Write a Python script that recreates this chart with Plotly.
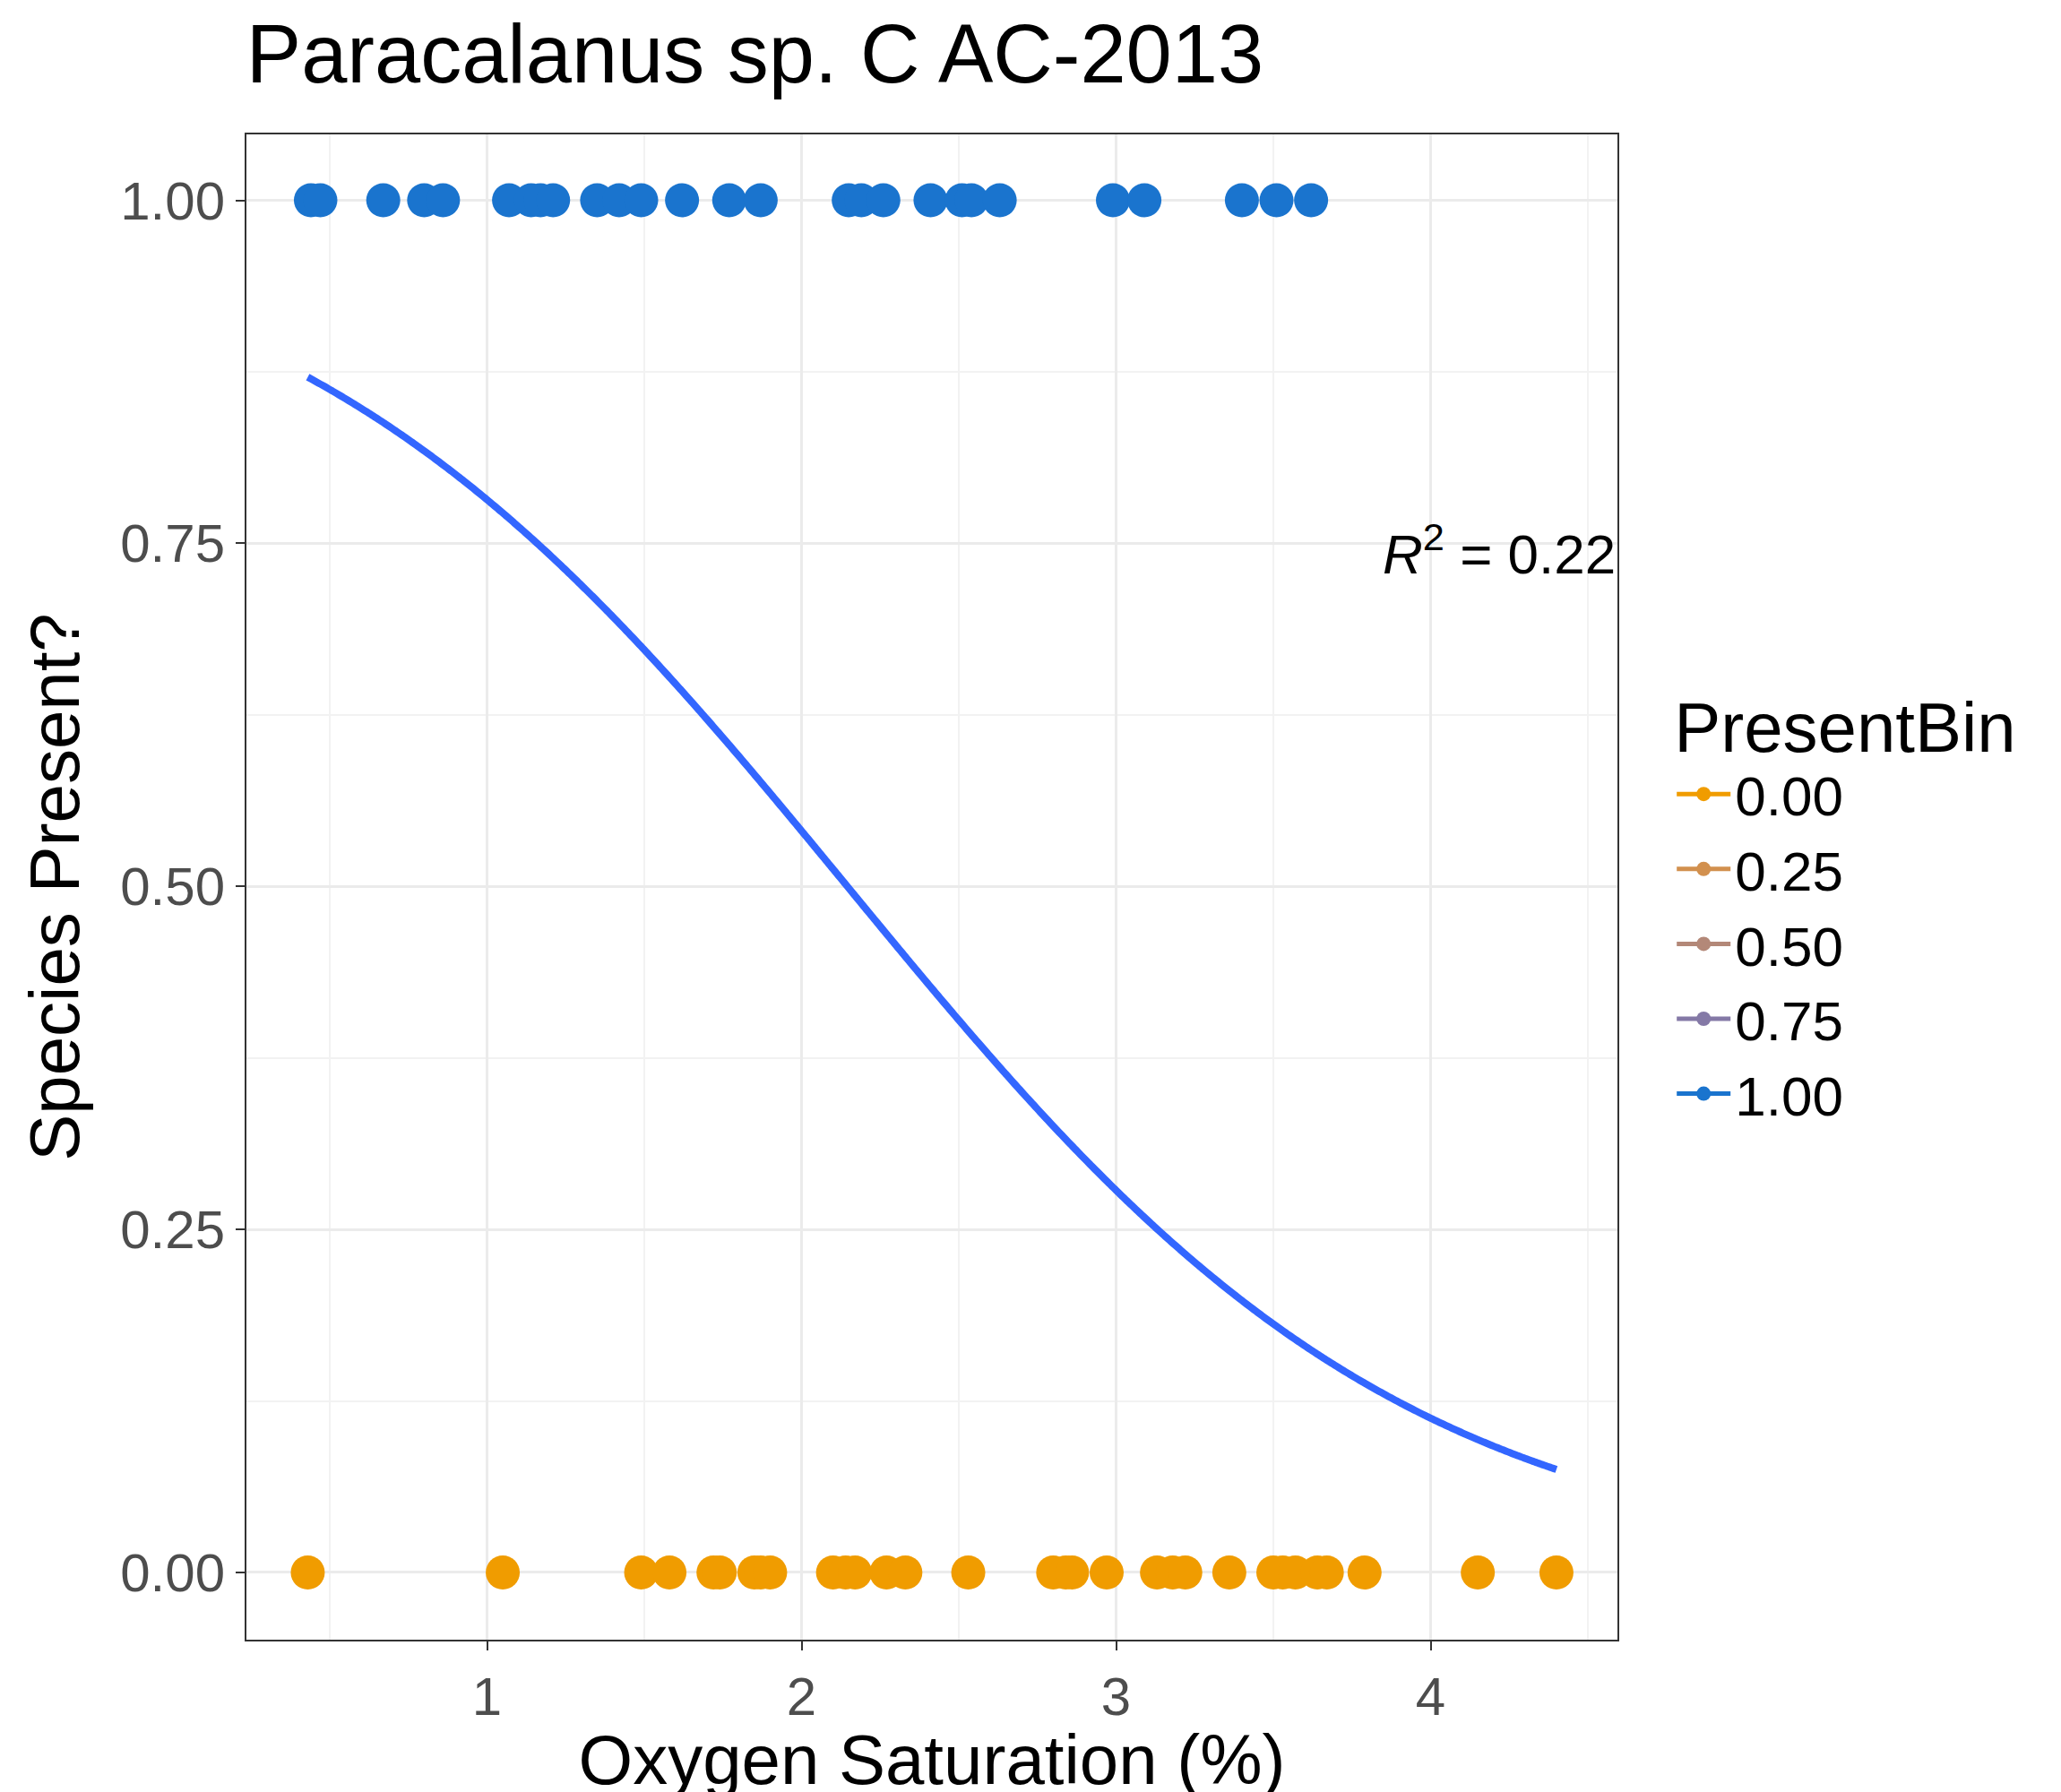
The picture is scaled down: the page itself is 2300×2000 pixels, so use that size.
import numpy as np
import plotly.graph_objects as go

# oxygen saturation of samples where species present / absent
o2_present = [0.44, 0.47, 0.67, 0.80, 0.86, 1.07, 1.14, 1.17, 1.21, 1.35, 1.42, 1.49, 1.62,
              1.77, 1.87, 2.15, 2.19, 2.26, 2.41, 2.51, 2.54, 2.63, 2.99, 3.09, 3.40, 3.51, 3.62]
o2_absent = [0.43, 1.05, 1.49, 1.58, 1.72, 1.74, 1.85, 1.87, 1.90, 2.10, 2.14, 2.17, 2.27, 2.33,
             2.53, 2.80, 2.84, 2.86, 2.97, 3.13, 3.18, 3.22, 3.36, 3.50, 3.53, 3.57, 3.64, 3.67,
             3.79, 4.15, 4.40]
# logistic fit coefficients
b0, b1 = 2.39, -1.114
legend_levels = ['0.00', '0.25', '0.50', '0.75', '1.00']
legend_colors = ['#F09C00', '#D2904E', '#B38878', '#8479A6', '#1A74CE']

fig = go.Figure()
for lab, col in zip(legend_levels, legend_colors):
    fig.add_trace(go.Scatter(x=[None], y=[None], mode='lines+markers', name=lab,
                             marker=dict(color=col, size=36), line=dict(color=col, width=5)))

xs = np.linspace(min(o2_present + o2_absent), max(o2_present + o2_absent), 400)
fig.add_trace(go.Scatter(x=xs, y=1 / (1 + np.exp(-(b0 + b1 * xs))), mode='lines',
                         line=dict(color='#3366FF', width=8, shape='spline'), showlegend=False))
fig.add_trace(go.Scatter(x=o2_absent, y=[0] * len(o2_absent), mode='markers', showlegend=False,
                         marker=dict(color=legend_colors[0], size=38)))
fig.add_trace(go.Scatter(x=o2_present, y=[1] * len(o2_present), mode='markers', showlegend=False,
                         marker=dict(color=legend_colors[-1], size=38)))

fig.add_annotation(x=4.594, y=0.745, xanchor='right', showarrow=False,
                   text='<i>R</i><sup>2</sup> = 0.22', font=dict(size=62, color='black'))

axis_common = dict(showline=True, linecolor='#333333', linewidth=2, mirror=True,
                   gridcolor='#EBEBEB', gridwidth=3, zeroline=False, automargin=False,
                   ticks='outside', ticklen=10, tickcolor='#333333', tickwidth=2,
                   tickfont=dict(size=60, color='#4D4D4D'),
                   minor=dict(showgrid=True, gridcolor='#F2F2F2', gridwidth=2))
fig.update_xaxes(range=[0.235, 4.594], tickvals=[1, 2, 3, 4], minor_dtick=0.5, minor_tick0=0.5,
                 title=dict(text='Oxygen Saturation (%)', font=dict(size=78, color='black'), standoff=20),
                 **axis_common)
fig.update_yaxes(range=[-0.049, 1.048], tickvals=[0, 0.25, 0.5, 0.75, 1],
                 ticktext=['0.00', '0.25', '0.50', '0.75', '1.00'], minor_dtick=0.125, minor_tick0=0.125,
                 title=dict(text='Species Present?', font=dict(size=78, color='black'), standoff=20),
                 **axis_common)
fig.update_layout(width=2300, height=2000, plot_bgcolor='white', paper_bgcolor='white',
                  font=dict(family='Liberation Sans, Arial, sans-serif', color='black'),
                  margin=dict(l=267, r=503, t=142, b=178),
                  title=dict(text='Paracalanus sp. C AC-2013', x=0.116, xanchor='left',
                             y=0.99, yanchor='top', font=dict(size=92, color='black')),
                  legend=dict(title=dict(text='PresentBin', font=dict(size=78)), x=1.04, y=0.65,
                              yanchor='top', font=dict(size=62), itemwidth=60, tracegroupgap=0))
fig.write_html('out.html')
